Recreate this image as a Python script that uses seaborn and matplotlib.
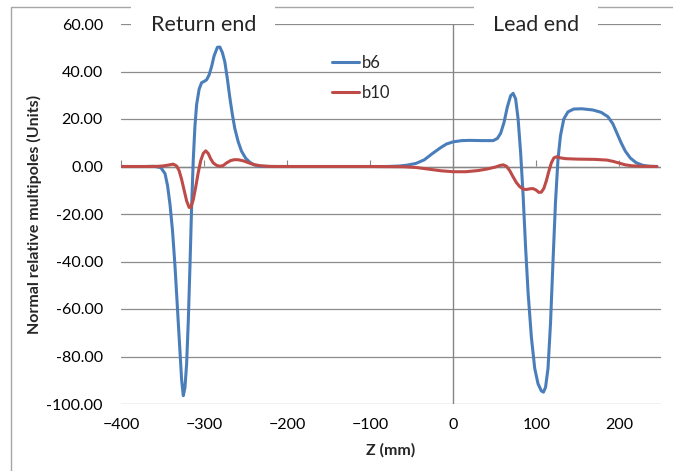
import numpy as np
import pandas as pd
import matplotlib
matplotlib.use("Agg")
import matplotlib.pyplot as plt
import seaborn as sns

# b6 multipole along the magnet axis
z_b6 = [-400, -370, -360, -352, -347, -344, -341, -338, -335, -332, -329, -327,
        -325, -323, -321, -319, -317, -315, -313, -311, -309, -306, -303, -300,
        -297, -294, -291, -288, -284, -281, -278, -275, -272, -269, -266, -263,
        -259, -255, -250, -245, -240, -233, -220, -150, -80, -65, -55, -45, -35,
        -25, -15, -8, 0, 10, 20, 35, 48, 53, 57, 61, 65, 69, 72, 75, 78, 81, 84,
        87, 90, 94, 98, 102, 106, 108.5, 111, 114, 117, 120, 123, 126, 129, 133,
        138, 145, 155, 168, 178, 186, 192, 197, 202, 207, 213, 220, 228, 236, 245]
b6 = [0, 0, 0.1, -0.5, -3, -8, -16, -27, -42, -60, -78, -90,
      -96.5, -93, -83, -65, -42, -17, 3, 17, 26, 32.5, 35.3, 35.8,
      36.5, 38.5, 42, 46.5, 50.2, 50.3, 48, 44, 37, 29, 22, 16,
      10.5, 6.5, 3.5, 1.8, 0.7, 0.1, 0, 0, 0, 0.2, 0.6, 1.3, 2.8,
      5.5, 8.0, 9.5, 10.4, 10.9, 11.0, 10.9, 10.9, 11.8, 14, 18.5, 25, 29.8, 30.8, 28.5, 20, 6, -12,
      -34, -53, -72, -85, -91.5, -94.5, -95, -93, -85, -66, -40, -15, 3, 13, 20,
      23, 24.2, 24.3, 23.8, 22.8, 21, 18, 14, 10, 6.5, 3.6, 1.6, 0.5, 0.1, 0]

# b10 multipole
z_b10 = [-400, -360, -350, -343, -337, -333, -330, -327, -324, -321, -318, -316,
         -313, -310, -307, -304, -301, -298, -295, -292, -289, -285, -281, -277,
         -273, -268, -263, -258, -252, -246, -240, -232, -222, -210, -100, -60,
         -45, -30, -15, 0, 15, 30, 40, 50, 56, 60, 64, 68, 72, 76, 80, 84, 88,
         92, 96, 100, 103, 106, 109, 112, 115, 118, 121, 124, 128, 135, 150, 170,
         185, 193, 200, 207, 215, 225, 245]
b10 = [0, 0, 0.2, 0.6, 1.0, 0.2, -1.8, -5.5, -10, -14.5, -17.2, -17.3,
       -14, -8.5, -2.5, 2.5, 5.5, 6.6, 5.5, 3.2, 1.5, 0.5, 0.1, 0.4,
       1.5, 2.5, 2.9, 2.8, 2.3, 1.5, 0.8, 0.3, 0.05, 0, 0, -0.1,
       -0.4, -1.1, -1.8, -2.2, -2.2, -1.7, -1.1, -0.3, 0.4, 0.7, 0.1, -1.8, -4.4, -6.8, -8.5, -9.5, -9.7,
       -9.4, -9.3, -10, -10.9, -10.8, -9.2, -6, -2, 1.5, 3.6, 4.1, 3.7, 3.3, 3.1, 3.0,
       2.7, 2.1, 1.4, 0.7, 0.3, 0.1, 0]

x_ticks = [-400, -300, -200, -100, 0, 100, 200]
y_ticks = [-100, -80, -60, -40, -20, 0, 20, 40, 60]

df = pd.concat([
    pd.DataFrame({"z": z_b6, "value": b6, "series": "b6"}),
    pd.DataFrame({"z": z_b10, "value": b10, "series": "b10"}),
])

sns.set_style("white")
plt.rcParams["font.family"] = ["Lato", "DejaVu Sans"]

W, H = 673, 471
fig = plt.figure(figsize=(W / 100, H / 100), dpi=100)
ax = fig.add_axes([121 / W, 1 - 404 / H, 540 / W, 380 / H])

colors = {"b6": "#4A7EBB", "b10": "#BE4B48"}
sns.lineplot(data=df, x="z", y="value", hue="series", palette=colors,
             estimator=None, sort=False, linewidth=2.2, ax=ax, zorder=3)

ax.set_xlim(-400, 250)
ax.set_ylim(-100, 60)
ax.set_xticks(x_ticks)
ax.set_yticks(y_ticks)
ax.set_yticklabels([f"{v:.2f}" for v in y_ticks])
ax.tick_params(axis="both", length=0, labelsize=11.5, colors="black")
ax.tick_params(axis="y", pad=13)
ax.tick_params(axis="x", pad=10)
for s in ax.spines.values():
    s.set_visible(False)

ax.set_axisbelow(True)
ax.yaxis.grid(True, color="#8c8c8c", linewidth=0.9)
ax.xaxis.grid(False)

# axis lines crossing at zero, with tick marks on the horizontal one
ax.axhline(0, color="#868686", linewidth=1.0, zorder=1.2)
ax.axvline(0, color="#868686", linewidth=1.0, zorder=1.2)
sec = ax.secondary_xaxis((0 + 100) / 160)
sec.set_xticks(x_ticks)
sec.tick_params(length=4, direction="out", color="#868686", labelbottom=False,
                labeltop=False)
for s in sec.spines.values():
    s.set_visible(False)

ax.set_xlabel("Z (mm)", fontweight="bold", fontsize=11.5, labelpad=8)
ax.set_ylabel("Normal relative multipoles (Units)", fontweight="bold",
              fontsize=11.5, labelpad=3)

# chart border (left and top)
ax.plot([-0.2037, -0.2037, 1.05], [-0.3, 1.0447, 1.0447], transform=ax.transAxes,
        clip_on=False, color="#a6a6a6", linewidth=1.0, zorder=0.6)

box = dict(facecolor="white", edgecolor="none", boxstyle="square,pad=0.9")
ax.text(-301, 59.5, "Return end", fontsize=15.5, ha="center", va="center",
        bbox=box, zorder=1)
ax.text(99.5, 59.5, "Lead end", fontsize=15.5, ha="center", va="center",
        bbox=box, zorder=1)

handles, labels = ax.get_legend_handles_labels()
ax.legend(handles, labels, loc="upper left",
          bbox_to_anchor=((332 - 121) / 540, 1 - (55 - 24) / 380),
          frameon=False, fontsize=12, handlelength=1.6, handletextpad=0.2,
          labelspacing=0.85, borderpad=0, borderaxespad=0)

fig.savefig("out.png", dpi=100)
